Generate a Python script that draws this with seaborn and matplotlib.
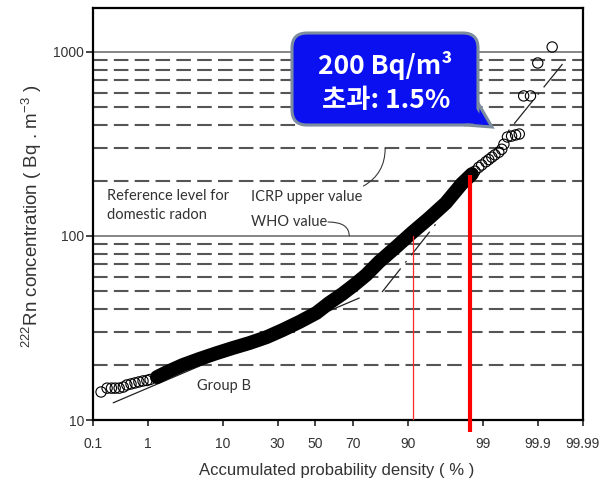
import numpy as np
import matplotlib
matplotlib.use("Agg")
import matplotlib.pyplot as plt
import seaborn as sns
import pandas as pd
from statistics import NormalDist
from matplotlib.patches import FancyBboxPatch, Polygon
from matplotlib.ticker import FixedLocator, FixedFormatter, NullLocator

# ---------------- data ----------------
prob_pct = [0.145, 0.19, 0.23, 0.27, 0.32, 0.38, 0.44, 0.52, 0.61, 0.71, 0.83, 0.96,
            1.08, 1.38, 1.95, 3.27, 5.40, 8.52, 12.5, 18.0, 24.9, 32.4, 41.2, 50.6,
            57.7, 64.6, 70.5, 76.0, 81.2, 86.9, 91.0, 94.3, 96.5, 97.3, 97.9, 98.52,
            98.67, 98.84, 98.96, 99.11, 99.20, 99.29, 99.37, 99.46, 99.52, 99.56,
            99.62, 99.68, 99.73, 99.77, 99.81, 99.86, 99.90, 99.95]
conc = [14.2, 14.9, 14.9, 14.9, 14.9, 15.1, 15.5, 15.7, 15.9, 16.1, 16.3, 16.4,
        16.6, 17.1, 18.2, 19.9, 21.5, 23.1, 24.6, 26.2, 28.2, 30.8, 34.1, 38.2,
        43.3, 48.4, 54.2, 61.4, 72.3, 87.1, 104, 125, 151, 171, 192, 217,
        225, 236, 243, 253, 260, 268, 276, 285, 296, 315,
        345, 349, 354, 358, 577, 577, 871, 1064]
band_from, band_to = 1.38, 98.52          # densely overlapping part of the sample

x_ticks = [0.1, 1, 10, 30, 50, 70, 90, 99, 99.9, 99.99]
x_tick_labels = ["0.1", "1", "10", "30", "50", "70", "90", "99", "99.9", "99.99"]
y_ticks = [10, 100, 1000]
y_tick_labels = ["10", "100", "1000"]
solid_levels = [100, 1000]
dashed_levels = [20, 30, 40, 50, 60, 70, 80, 90, 200, 300, 400, 500, 600, 700, 800, 900]

fitB_p, fitB_c = [0.248, 72.9], [12.4, 46.0]
fitM_p, fitM_c = [82.3, 95.7], [49.6, 122]
fitT_p, fitT_c = [99.62, 99.976], [367, 916]

who_p, who_c = 91.3, 100
exceed_p, exceed_c = 98.4, 215
icrp_level, icrp_p = 300, 83.4
who_level, who_lead_p = 100, 68.1

# ---------------- probability scale ----------------
_nd = NormalDist()
_ppf = np.vectorize(_nd.inv_cdf, otypes=[float])
_cdf = np.vectorize(_nd.cdf, otypes=[float])


def fwd(p):
    p = np.asarray(p, dtype=float)
    return _ppf(np.clip(p / 100.0, 1e-12, 1 - 1e-12))


def inv(z):
    z = np.asarray(z, dtype=float)
    return _cdf(z) * 100.0


sns.set_style("white")
plt.rcParams["font.family"] = ["Liberation Sans", "DejaVu Sans"]
plt.rcParams["mathtext.fontset"] = "custom"
plt.rcParams["mathtext.rm"] = "Liberation Sans"
plt.rcParams["mathtext.it"] = "Liberation Sans:italic"

fig = plt.figure(figsize=(6.13, 4.83), dpi=100)
ax = fig.add_axes([93 / 613, 63 / 483, 490 / 613, 412 / 483])
ax.set_xscale("function", functions=(fwd, inv))
ax.set_yscale("log")
ax.set_xlim(0.1, 99.99)
ax.set_ylim(10, 1733)

# horizontal reference lines
for lv in dashed_levels:
    ax.axhline(lv, color="#555555", lw=1.5, ls=(0, (7, 3)), zorder=1)
for lv in solid_levels:
    ax.axhline(lv, color="#666666", lw=1.1, zorder=1)

df = pd.DataFrame({"p": prob_pct, "c": conc})
band = df[(df.p >= band_from) & (df.p <= band_to)]

# fitted lines
sns.lineplot(x=fitB_p, y=fitB_c, ax=ax, color="#222222", lw=0.9, zorder=2)
sns.lineplot(x=fitM_p, y=fitM_c, ax=ax, color="#222222", lw=0.9, zorder=2,
             ls=(0, (24, 6, 1.5, 6)))
sns.lineplot(x=fitT_p, y=fitT_c, ax=ax, color="#222222", lw=0.9, zorder=2,
             ls=(29, (24, 6, 1.5, 6)))

# sample points
sns.lineplot(data=band, x="p", y="c", ax=ax, color="black", lw=10, sort=False,
             estimator=None, solid_capstyle="round", solid_joinstyle="round", zorder=3)
sns.scatterplot(data=df, x="p", y="c", ax=ax, s=55, marker="o", facecolor="none",
                edgecolor="black", linewidth=0.8, zorder=3)

# red marker lines
ax.plot([who_p, who_p], [10, who_c], color="#ff2a2a", lw=0.9, zorder=4)
ax.plot([exceed_p, exceed_p], [8.6, exceed_c], color="#ff0000", lw=3.0, zorder=4,
        clip_on=False, solid_capstyle="butt")

# axes styling
ax.xaxis.set_major_locator(FixedLocator(x_ticks))
ax.xaxis.set_major_formatter(FixedFormatter(x_tick_labels))
ax.xaxis.set_minor_locator(NullLocator())
ax.yaxis.set_major_locator(FixedLocator(y_ticks))
ax.yaxis.set_major_formatter(FixedFormatter(y_tick_labels))
ax.yaxis.set_minor_locator(NullLocator())
ax.tick_params(axis="x", which="major", direction="out", length=4, width=1.2,
               pad=8.5, labelsize=10, labelcolor="#333333", bottom=True)
ax.tick_params(axis="y", which="major", direction="out", length=5, width=1.2,
               pad=1.5, labelsize=10, labelcolor="#333333", left=True)
for sp in ax.spines.values():
    sp.set_color("black")
    sp.set_linewidth(1.6)
ax.set_xlabel("")
ax.set_ylabel("")

ax.text((32 - 93) / 490, (420 - 216) / 412,
        r"$^{222}$Rn concentration ( Bq . m$^{-3}$ )", rotation=90,
        ha="center", va="center", fontsize=13.5, color="#333333",
        transform=ax.transAxes)
ax.text((337 - 93) / 490, (420 - 470) / 412, "Accumulated probability density ( % )",
        ha="center", va="center", fontsize=12, color="#333333",
        transform=ax.transAxes)

# annotations
afont = dict(family=["Lato", "DejaVu Sans"], fontsize=10.5, color="#333333")
ax.text((107 - 93) / 490, (420 - 196) / 412, "Reference level for", ha="left",
        va="center", transform=ax.transAxes, **afont)
ax.text((107 - 93) / 490, (420 - 215) / 412, "domestic radon", ha="left",
        va="center", transform=ax.transAxes, **afont)
ax.text((251 - 93) / 490, (420 - 222) / 412, "WHO value", ha="left",
        va="center", transform=ax.transAxes, **afont)
ax.text((197 - 93) / 490, (420 - 386) / 412, "Group B", ha="left",
        va="center", transform=ax.transAxes, **afont)
ax.annotate("ICRP upper value", xy=(icrp_p, icrp_level), xycoords="data",
            xytext=((251 - 93) / 490, (420 - 197) / 412), textcoords="axes fraction",
            ha="left", va="center",
            arrowprops=dict(arrowstyle="-", color="#3a3a3a", lw=0.8, shrinkA=1, shrinkB=0,
                            connectionstyle="angle3,angleA=0,angleB=90"),
            **afont)
ax.annotate("", xy=(who_lead_p, who_level), xycoords="data",
            xytext=((328 - 93) / 490, (420 - 222) / 412), textcoords="axes fraction",
            arrowprops=dict(arrowstyle="-", color="#3a3a3a", lw=0.8, shrinkA=0, shrinkB=0,
                            connectionstyle="angle3,angleA=0,angleB=90"))

# callout box (figure inches)
blue = "#0a10f0"
edge = "#7d8da0"
tr = fig.dpi_scale_trans
tail = Polygon([(4.66, 3.58), (4.92, 3.56), (4.78, 3.80)], closed=True,
               facecolor=blue, edgecolor=edge, lw=2.2, transform=tr, zorder=10)
fig.patches.append(tail)
box = FancyBboxPatch((2.92, 3.58), 1.86, 0.92,
                     boxstyle="round,pad=0,rounding_size=0.15",
                     facecolor=blue, edgecolor=edge, lw=2.2, transform=tr, zorder=11)
fig.patches.append(box)
cover = Polygon([(4.64, 3.60), (4.86, 3.585), (4.765, 3.74), (4.70, 3.70)], closed=True,
                facecolor=blue, edgecolor="none", transform=tr, zorder=12)
fig.patches.append(cover)
kfont = dict(family=["Noto Sans CJK KR", "DejaVu Sans"], fontsize=19, weight="bold",
             color="white", ha="center", va="center", transform=tr, zorder=13)
fig.text(3.85, 4.17, "200 Bq/m³", **kfont)
fig.text(3.86, 3.83, "초과: 1.5%", **kfont)

fig.savefig("out.png", dpi=100)
